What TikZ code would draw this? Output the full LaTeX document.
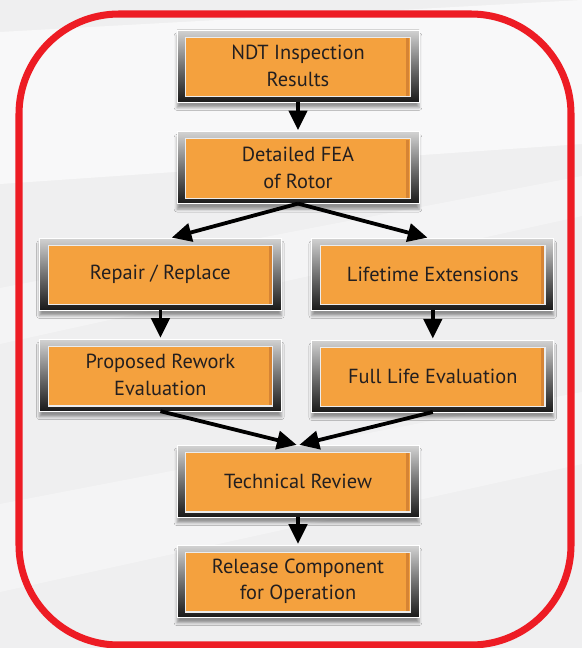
\documentclass[tikz,border=0pt]{standalone}
\usepackage{fontspec}
\setmainfont{PT Sans}
\usepackage[usenames, svgnames, dvipsnames]{xcolor}
\usetikzlibrary{arrows.meta,positioning,shadows.blur}

\definecolor{boxorange}{RGB}{244,161,62}
\definecolor{boxedge}{RGB}{214,132,52}
\definecolor{framered}{RGB}{237,28,36}
\definecolor{textgray}{RGB}{35,31,32}
\definecolor{bggray}{RGB}{239,239,240}

\tikzset{
  stepbox/.style={rectangle, minimum width=6.05cm, minimum height=1.8cm,
    top color=gray!35, bottom color=black!90, middle color=black!55,
    draw=white, line width=0.6pt, outer sep=0pt, align=center, text=textgray,
    font=\fontsize{14.5}{19}\selectfont,
    blur shadow={shadow xshift=0pt, shadow yshift=-4pt, shadow opacity=40},
    path picture={
      \fill[boxorange,draw=gray!15,line width=0.8pt]
        ([shift={(0.22,-0.18)}]path picture bounding box.north west)
        rectangle ([shift={(-0.22,0.13)}]path picture bounding box.south east);
      \fill[boxedge]
        ([shift={(-0.32,-0.2)}]path picture bounding box.north east)
        rectangle ([shift={(-0.24,0.15)}]path picture bounding box.south east);}}
}

\begin{document}
\begin{tikzpicture}[->,>={Triangle[length=14pt,width=13pt]},shorten >=1pt,
                    on grid,line width=2.7pt]
  % background and frame
  \fill[-,bggray] (0,0) rectangle (14.55,-16.2);
  \useasboundingbox (0,0) rectangle (14.55,-16.2);
  \fill[-,white,opacity=0.6] (0,-0.8) -- (14.55,0) -- (14.55,-3.6) -- (0,-4.6) -- cycle;
  \fill[-,white,opacity=0.35] (0,-7.2) -- (14.55,-4.4) -- (14.55,-5.4) -- (0,-8.6) -- cycle;
  \fill[-,white,opacity=0.35] (0,-12.6) -- (14.55,-9.8) -- (14.55,-11.6) -- (0,-14.8) -- cycle;
  \draw[-,framered,line width=5pt,rounded corners=2.5cm]
    (0.475,-0.35) rectangle (14.275,-16.125);

  \node[stepbox] (ndt) at (7.45,-1.65)                      {NDT Inspection\\Results};
  \node[stepbox] (fea)      [below=2.54cm of ndt]            {Detailed FEA\\of Rotor};
  \node[stepbox] (repair)   [below left=2.66cm and 3.44cm of fea]  {Repair / Replace};
  \node[stepbox] (lifetime) [below right=2.66cm and 3.37cm of fea] {Lifetime Extensions};
  \node[stepbox] (rework)   [below=2.53cm of repair]         {Proposed Rework\\Evaluation};
  \node[stepbox] (fulllife) [below=2.55cm of lifetime]       {Full Life Evaluation};
  \node[stepbox] (review)   [below=7.84cm of fea]            {Technical Review};
  \node[stepbox] (release)  [below=2.5cm of review]          {Release Component\\for Operation};

  \path (ndt)            edge (fea)
        (fea.south)      edge ([xshift=0.25cm]repair.north)
        (fea.south)      edge ([xshift=-0.1cm]lifetime.north)
        (repair)         edge (rework)
        (lifetime)       edge (fulllife)
        (rework.south)   edge (review.north)
        (fulllife.south) edge (review.north)
        (review)         edge (release);
\end{tikzpicture}
\end{document}
